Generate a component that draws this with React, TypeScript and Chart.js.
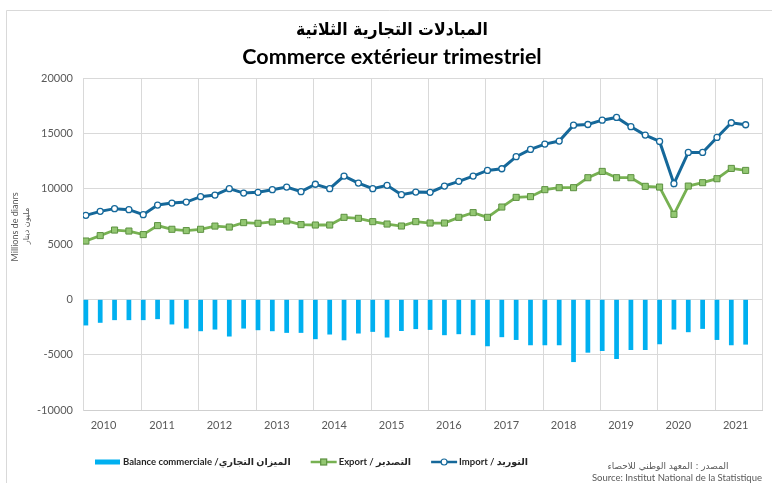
import React, { useEffect, useRef } from 'react';
import { Chart, registerables } from 'chart.js';

Chart.register(...registerables);

// ---------- data ----------
const YEARS = ['2010', '2011', '2012', '2013', '2014', '2015', '2016', '2017', '2018', '2019', '2020', '2021'];

// quarterly values, 2010 Q1 .. 2021 Q3 (millions of dinars)
const IMPORT = [
  7590, 7950, 8195, 8100,
  7650, 8520, 8700, 8790,
  9280, 9420, 10000, 9600,
  9670, 9910, 10145, 9730,
  10400, 10000, 11140, 10505,
  10000, 10300, 9460, 9690,
  9665, 10235, 10660, 11140,
  11650, 11800, 12890, 13545,
  14025, 14300, 15740, 15800,
  16190, 16435, 15600, 14840,
  14270, 10450, 13275, 13275,
  14630, 15955, 15775,
];
const EXPORT = [
  5270, 5760, 6260, 6170,
  5850, 6660, 6330, 6210,
  6330, 6620, 6530, 6930,
  6870, 6990, 7080, 6750,
  6715, 6715, 7410, 7320,
  7020, 6805, 6625, 7020,
  6895, 6895, 7410, 7835,
  7410, 8340, 9215, 9280,
  9910, 10090, 10090, 10990,
  11560, 10990, 10990, 10210,
  10145, 7680, 10235, 10540,
  10900, 11830, 11650,
];
const BALANCE = [
  -2360, -2120, -1880, -1880,
  -1880, -1790, -2270, -2640,
  -2880, -2730, -3360, -2640,
  -2790, -2880, -3030, -3030,
  -3600, -3180, -3700, -3090,
  -2940, -3450, -2860, -2690,
  -2760, -3240, -3150, -3240,
  -4240, -3420, -3670, -4150,
  -4150, -4150, -5670, -4820,
  -4670, -5390, -4580, -4580,
  -4060, -2730, -2970, -2670,
  -3670, -4150, -4090,
];

const Y_MIN = -10000;
const Y_MAX = 20000;
const Y_STEP = 5000;

const TITLE_AR = 'المبادلات التجارية الثلاثية';
const TITLE_FR = 'Commerce extérieur trimestriel';
const Y_LABEL = ['Millions de dianrs', 'مليون دينار'];
const LABEL_BALANCE = 'Balance commerciale /الميزان التجاري';
const LABEL_EXPORT = 'Export / التصدير';
const LABEL_IMPORT = 'Import / التوريد';
const SOURCE_AR = 'المصدر : المعهد الوطني للاحصاء';
const SOURCE_FR = 'Source: Institut National de la Statistique';

// ---------- styles ----------
const BAR_COLOR = '#00b0f0';
const IMPORT_COLOR = '#15689a';
const EXPORT_COLOR = '#77b152';
const EXPORT_POINT_FILL = '#93c772';
const EXPORT_POINT_BORDER = '#5c9140';
const GRID_COLOR = '#d9d9d9';
const TICK_COLOR = '#595959';
const FONT = 'Lato, "DejaVu Sans", sans-serif';
const AR_FONT = '"DejaVu Sans", sans-serif';
const AR_TITLE_FONT = '"DejaVu Sans Condensed", "DejaVu Sans", sans-serif';

// x axis in quarter-index units
const X_MIN = -0.2;
const X_MAX = 47.14;
const YEAR_BOUNDARY_SHIFT = -0.12;

const toPoints = (arr: number[]) => arr.map((v, i) => ({ x: i, y: v }));

const decorPlugin = {
  id: 'decor',
  beforeDraw(chart: any) {
    const ctx = chart.ctx;
    ctx.save();
    ctx.fillStyle = '#ffffff';
    ctx.fillRect(0, 0, chart.width, chart.height);
    ctx.strokeStyle = '#d9d9d9';
    ctx.lineWidth = 1;
    ctx.beginPath();
    ctx.moveTo(6.5, chart.height);
    ctx.lineTo(6.5, 10.5);
    ctx.lineTo(chart.width, 10.5);
    ctx.stroke();
    ctx.restore();
  },
  afterDraw(chart: any) {
    const ctx = chart.ctx;
    ctx.save();
    // titles
    ctx.fillStyle = '#000000';
    ctx.textAlign = 'center';
    ctx.textBaseline = 'middle';
    ctx.font = 'bold 17.5px ' + AR_TITLE_FONT;
    ctx.fillText(TITLE_AR, 392, 30);
    ctx.font = 'bold 21.5px ' + FONT;
    ctx.fillText(TITLE_FR, 392, 57);

    // y axis title (two lines, rotated)
    ctx.fillStyle = TICK_COLOR;
    ctx.save();
    ctx.translate(15, 227);
    ctx.rotate(-Math.PI / 2);
    ctx.font = '9px ' + FONT;
    ctx.fillText(Y_LABEL[0], 0, 0);
    ctx.restore();
    ctx.save();
    ctx.translate(27, 226);
    ctx.rotate(-Math.PI / 2);
    ctx.font = '8px ' + AR_FONT;
    ctx.fillText(Y_LABEL[1], 0, 0);
    ctx.restore();

    // legend
    const ly = 462;
    let lx = 95;
    ctx.textAlign = 'left';
    ctx.font = 'bold 9.5px ' + FONT;
    const items = [
      { label: LABEL_BALANCE, kind: 'bar' },
      { label: LABEL_EXPORT, kind: 'export' },
      { label: LABEL_IMPORT, kind: 'import' },
    ];
    items.forEach((it) => {
      if (it.kind === 'bar') {
        ctx.fillStyle = BAR_COLOR;
        ctx.fillRect(lx, ly - 2.5, 25, 5);
      } else {
        const col = it.kind === 'export' ? EXPORT_COLOR : IMPORT_COLOR;
        ctx.strokeStyle = col;
        ctx.lineWidth = 2.5;
        ctx.beginPath();
        ctx.moveTo(lx, ly);
        ctx.lineTo(lx + 26, ly);
        ctx.stroke();
        ctx.lineWidth = 1.2;
        if (it.kind === 'export') {
          ctx.fillStyle = EXPORT_POINT_FILL;
          ctx.strokeStyle = EXPORT_POINT_BORDER;
          ctx.fillRect(lx + 10, ly - 3, 6, 6);
          ctx.strokeRect(lx + 10, ly - 3, 6, 6);
        } else {
          ctx.fillStyle = '#ffffff';
          ctx.beginPath();
          ctx.arc(lx + 13, ly, 3, 0, Math.PI * 2);
          ctx.fill();
          ctx.stroke();
        }
      }
      ctx.fillStyle = '#262626';
      ctx.fillText(it.label, lx + 28, ly);
      lx += 28 + ctx.measureText(it.label).width + 20;
    });

    // source
    ctx.fillStyle = TICK_COLOR;
    ctx.textAlign = 'center';
    ctx.font = '9px ' + AR_FONT;
    ctx.fillText(SOURCE_AR, 668, 467);
    ctx.textAlign = 'right';
    ctx.font = '9.5px ' + FONT;
    ctx.fillText(SOURCE_FR, 762, 478);
    ctx.restore();
  },
};

export default function App() {
  const canvasRef = useRef<HTMLCanvasElement | null>(null);

  useEffect(() => {
    if (!canvasRef.current) return;
    const boundaries = YEARS.map((_, k) => (k === 0 ? X_MIN : 4 * k + YEAR_BOUNDARY_SHIFT));
    const chart = new Chart(canvasRef.current, {
      type: 'line',
      data: {
        datasets: [
          {
            type: 'bar',
            label: LABEL_BALANCE,
            data: toPoints(BALANCE),
            backgroundColor: BAR_COLOR,
            borderWidth: 0,
            categoryPercentage: 1,
            barPercentage: 0.33,
            order: 3,
          } as any,
          {
            type: 'line',
            label: LABEL_EXPORT,
            data: toPoints(EXPORT),
            borderColor: EXPORT_COLOR,
            borderWidth: 2.8,
            pointStyle: 'rect',
            pointRadius: 4.3,
            pointBackgroundColor: EXPORT_POINT_FILL,
            pointBorderColor: EXPORT_POINT_BORDER,
            pointBorderWidth: 1,
            tension: 0,
            order: 2,
          },
          {
            type: 'line',
            label: LABEL_IMPORT,
            data: toPoints(IMPORT),
            borderColor: IMPORT_COLOR,
            borderWidth: 3,
            pointStyle: 'circle',
            pointRadius: 3,
            pointBackgroundColor: '#ffffff',
            pointBorderColor: IMPORT_COLOR,
            pointBorderWidth: 1.3,
            tension: 0,
            order: 1,
          },
        ],
      },
      options: {
        animation: false,
        responsive: false,
        events: [],
        layout: { padding: { left: 0, top: 78, right: 10, bottom: 0 } },
        plugins: {
          legend: { display: false },
          title: { display: false },
          tooltip: { enabled: false },
        },
        scales: {
          x: {
            type: 'linear',
            position: 'bottom',
            offset: false,
            min: X_MIN,
            max: X_MAX,
            grid: { color: GRID_COLOR, lineWidth: 1, drawTicks: false, offset: false },
            border: { display: true, color: '#cfcfcf' },
            afterBuildTicks: (scale: any) => {
              scale.ticks = [...boundaries, X_MAX].map((v) => ({ value: v }));
            },
            ticks: {
              autoSkip: false,
              maxRotation: 0,
              minRotation: 0,
              padding: 9,
              labelOffset: 20.5,
              color: TICK_COLOR,
              font: { family: FONT, size: 11 },
              callback: (_v: any, index: number) => YEARS[index] ?? '',
            },
            afterFit: (scale: any) => {
              scale.height = 73;
            },
          },
          y: {
            type: 'linear',
            min: Y_MIN,
            max: Y_MAX,
            grid: { color: GRID_COLOR, lineWidth: 1, drawTicks: false },
            border: { display: true, color: GRID_COLOR },
            ticks: {
              stepSize: Y_STEP,
              padding: 10,
              color: TICK_COLOR,
              font: { family: FONT, size: 11 },
              callback: (v: any) => String(v),
            },
            afterFit: (scale: any) => {
              scale.width = 83;
            },
          },
        },
      },
      plugins: [decorPlugin],
    });
    return () => chart.destroy();
  }, []);

  return (
    <div style={{ position: 'fixed', left: 0, top: 0, width: 772, height: 483 }}>
      <canvas ref={canvasRef} width={772} height={483} style={{ display: 'block' }} />
    </div>
  );
}
